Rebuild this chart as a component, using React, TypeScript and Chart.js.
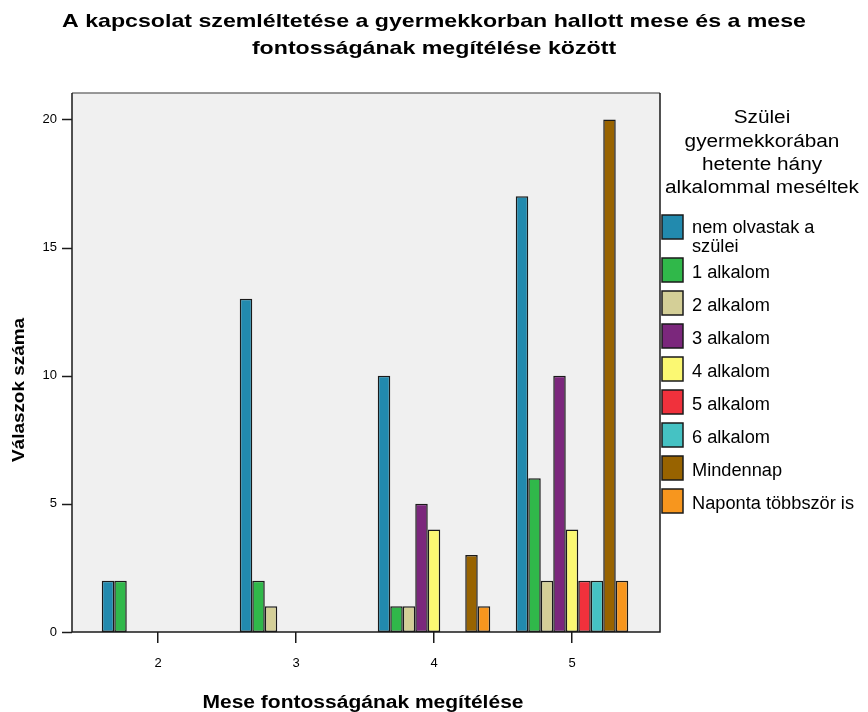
import React, { useEffect, useRef } from "react";
import { Chart, registerables } from "chart.js";

Chart.register(...registerables);

const categories = ["2", "3", "4", "5"];
const seriesNames = [
  "nem olvastak a szülei",
  "1 alkalom",
  "2 alkalom",
  "3 alkalom",
  "4 alkalom",
  "5 alkalom",
  "6 alkalom",
  "Mindennap",
  "Naponta többször is",
];
const legendLines = [
  ["nem olvastak a", "szülei"],
  ["1 alkalom"],
  ["2 alkalom"],
  ["3 alkalom"],
  ["4 alkalom"],
  ["5 alkalom"],
  ["6 alkalom"],
  ["Mindennap"],
  ["Naponta többször is"],
];
const seriesColors = [
  "#228AAE",
  "#30B84A",
  "#D4CF97",
  "#7B277C",
  "#FBF872",
  "#F0313C",
  "#45C2C3",
  "#986300",
  "#F7961E",
];
const nemOlvastak = [2, 13, 10, 17];
const alkalom1 = [2, 2, 1, 6];
const alkalom2 = [0, 1, 1, 2];
const alkalom3 = [0, 0, 5, 10];
const alkalom4 = [0, 0, 4, 4];
const alkalom5 = [0, 0, 0, 2];
const alkalom6 = [0, 0, 0, 2];
const mindennap = [0, 0, 3, 20];
const naponta = [0, 0, 1, 2];
const seriesValues = [nemOlvastak, alkalom1, alkalom2, alkalom3, alkalom4, alkalom5, alkalom6, mindennap, naponta];
const yTicks = [0, 5, 10, 15, 20];

const titleLines = [
  "A kapcsolat szemléltetése a gyermekkorban hallott mese és a mese",
  "fontosságának megítélése között",
];
const xTitle = "Mese fontosságának megítélése";
const yTitle = "Válaszok száma";
const legendTitle = ["Szülei", "gyermekkorában", "hetente hány", "alkalommal meséltek"];

const FONT = "Arial, 'Liberation Sans', sans-serif";

function drawScaled(ctx: any, text: string, x: number, y: number, sx: number, align: string) {
  const w = ctx.measureText(text).width * sx;
  let left = x;
  if (align === "center") left = x - w / 2;
  ctx.save();
  ctx.textAlign = "left";
  ctx.translate(left, y);
  ctx.scale(sx, 1);
  ctx.fillText(text, 0, 0);
  ctx.restore();
}

const decorPlugin = {
  id: "decor",
  beforeDraw(chart: any) {
    const { ctx, chartArea } = chart;
    ctx.save();
    ctx.fillStyle = "#F0F0F0";
    ctx.fillRect(72, chartArea.top, 660 - 72, chartArea.bottom - chartArea.top);
    ctx.restore();
  },
  afterDraw(chart: any) {
    const { ctx, chartArea } = chart;
    const yScale = chart.scales.y;
    ctx.save();
    // plot frame
    ctx.lineWidth = 1.5;
    ctx.strokeStyle = "#777";
    ctx.beginPath();
    ctx.moveTo(72, chartArea.top);
    ctx.lineTo(660, chartArea.top);
    ctx.stroke();
    ctx.strokeStyle = "#1a1a1a";
    ctx.beginPath();
    ctx.moveTo(72, chartArea.top);
    ctx.lineTo(72, chartArea.bottom);
    ctx.lineTo(660, chartArea.bottom);
    ctx.lineTo(660, chartArea.top);
    ctx.stroke();
    // y tick marks
    yTicks.forEach((v) => {
      const y = Math.round(yScale.getPixelForValue(v)) + 0.5;
      ctx.beginPath();
      ctx.moveTo(62, y);
      ctx.lineTo(72, y);
      ctx.stroke();
    });
    ctx.fillStyle = "#000";
    ctx.textBaseline = "alphabetic";
    // title
    ctx.font = `bold 19px ${FONT}`;
    const tsx = 744 / ctx.measureText(titleLines[0]).width;
    drawScaled(ctx, titleLines[0], 434, 27, tsx, "center");
    drawScaled(ctx, titleLines[1], 434, 54, tsx, "center");
    // x title
    ctx.font = `bold 18px ${FONT}`;
    const xsx = 321 / ctx.measureText(xTitle).width;
    drawScaled(ctx, xTitle, 363, 708, xsx, "center");
    // y title
    ctx.save();
    ctx.translate(24, 390);
    ctx.rotate(-Math.PI / 2);
    ctx.font = `bold 17px ${FONT}`;
    const ysx = 144 / ctx.measureText(yTitle).width;
    drawScaled(ctx, yTitle, 0, 0, ysx, "center");
    ctx.restore();
    // legend title
    ctx.font = `18px ${FONT}`;
    const lsx = 194 / ctx.measureText(legendTitle[3]).width;
    const ltY = [123, 147, 170, 193];
    legendTitle.forEach((t, i) => drawScaled(ctx, t, 762, ltY[i], lsx, "center"));
    // legend items
    ctx.font = `18px ${FONT}`;
    const isx = 162 / ctx.measureText("Naponta többször is").width;
    const boxTops = [215, 258, 291, 324, 357, 390, 423, 456, 489];
    chart.data.datasets.forEach((ds: any, i: number) => {
      const top = boxTops[i];
      ctx.fillStyle = ds.backgroundColor;
      ctx.fillRect(662, top, 21, 24);
      ctx.strokeStyle = "#1a1a1a";
      ctx.lineWidth = 1.5;
      ctx.strokeRect(662, top, 21, 24);
      ctx.fillStyle = "#000";
      const lines = legendLines[i];
      if (lines.length === 1) {
        drawScaled(ctx, lines[0], 692, top + 20, isx, "left");
      } else {
        drawScaled(ctx, lines[0], 692, top + 18, isx, "left");
        drawScaled(ctx, lines[1], 692, top + 37, isx, "left");
      }
    });
    ctx.restore();
  },
};

export default function App() {
  const ref = useRef<HTMLCanvasElement>(null);
  useEffect(() => {
    if (!ref.current) return;
    const chart = new Chart(ref.current, {
      type: "bar",
      data: {
        labels: categories,
        datasets: seriesNames.map((name, i) => ({
          label: name,
          data: seriesValues[i],
          backgroundColor: seriesColors[i],
          borderColor: "#1a1a1a",
          borderWidth: 1.5,
          borderSkipped: false,
          categoryPercentage: 0.815,
          barPercentage: 1,
        })),
      },
      options: {
        animation: false,
        responsive: false,
        maintainAspectRatio: false,
        layout: { padding: { top: 93, right: 227, left: 0, bottom: 0 } },
        plugins: {
          legend: { display: false },
          title: { display: false },
          tooltip: { enabled: false },
        },
        scales: {
          x: {
            afterFit: (s: any) => {
              s.height = 80;
            },
            border: { display: false },
            grid: {
              offset: false,
              drawOnChartArea: false,
              drawTicks: true,
              tickLength: 11,
              color: "#1a1a1a",
              lineWidth: 1.5,
            },
            ticks: { color: "#000", font: { family: FONT, size: 13 }, padding: 13 },
          },
          y: {
            min: 0,
            max: 21.03,
            afterFit: (s: any) => {
              s.width = 89;
            },
            afterBuildTicks: (s: any) => {
              s.ticks = yTicks.map((v) => ({ value: v }));
            },
            border: { display: false },
            grid: { display: false, drawTicks: false },
            ticks: { color: "#000", font: { family: FONT, size: 13 }, padding: 32 },
          },
        },
      },
      plugins: [decorPlugin],
    });
    return () => chart.destroy();
  }, []);
  return (
    <div style={{ position: "fixed", left: 0, top: 0, width: 868, height: 712, background: "#fff" }}>
      <canvas ref={ref} width={868} height={712} style={{ width: 868, height: 712 }} />
    </div>
  );
}
